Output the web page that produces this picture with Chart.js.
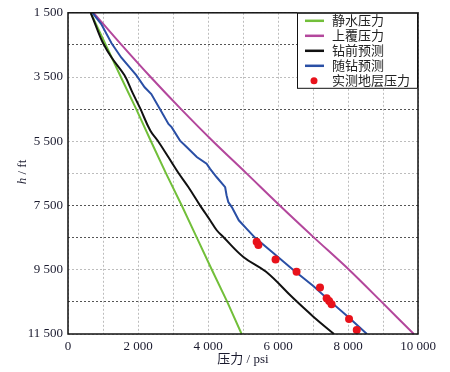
<!DOCTYPE html>
<html>
<head>
<meta charset="utf-8">
<script src="https://cdn.jsdelivr.net/npm/chart.js@4.4.1/dist/chart.umd.min.js"></script>
<style>
  html, body { margin: 0; padding: 0; background: #fff; }
  #wrap { width: 450px; height: 372px; }
</style>
</head>
<body>
<div id="wrap"><canvas id="grafico" width="450" height="372"></canvas></div>
<script>
// valores: profundidad (ft) y presion (psi)
var profHidro = [1500, 2500, 3500, 4500, 5500, 6500, 7500, 8500, 9500, 10500, 11500];
var hidrostatica = [650, 1080, 1510, 1950, 2370, 2800, 3250, 3680, 4110, 4550, 4960];

var profSobre = [1500, 2500, 3500, 4500, 5500, 6500, 7500, 8500, 9500, 10500, 11500];
var sobrecarga = [730, 1530, 2360, 3230, 4140, 5100, 6050, 7030, 8030, 8960, 9880];

var profPre = [1500, 2000, 2440, 2900, 3440, 4000, 4470, 5165, 5475, 5990, 6480, 6925, 7495, 7750, 7960, 8270, 8480, 9100, 9565, 10390, 10960, 11500];
var prePerfo = [650, 830, 1000, 1250, 1610, 1850, 2060, 2350, 2560, 2866, 3152, 3438, 3771, 3930, 4060, 4250, 4438, 5010, 5660, 6440, 7010, 7600];

var profCon = [1500, 1850, 2440, 2890, 3440, 3820, 4030, 4500, 4960, 5060, 5480, 5680, 5990, 6200, 6360, 6620, 6930, 7180, 7390, 7550, 7960, 8220, 8500, 9000, 9500, 10000, 10500, 11000, 11500];
var conPerfo = [700, 950, 1240, 1520, 1950, 2190, 2380, 2630, 2870, 2960, 3200, 3390, 3680, 3960, 4060, 4250, 4490, 4530, 4580, 4680, 4880, 5100, 5340, 5890, 6430, 7000, 7510, 8040, 8540];

// presion medida de formacion
var medidaPresion = [5390, 5440, 5930, 6530, 7200, 7390, 7460, 7530, 8030, 8250];
var medidaProf = [8630, 8730, 9180, 9565, 10050, 10390, 10475, 10570, 11030, 11375];

var etiquetas = ['静水压力', '上覆压力', '钻前预测', '随钻预测', '实测地层压力'];
var yTicks = [1500, 2500, 3500, 4500, 5500, 6500, 7500, 8500, 9500, 10500, 11500];
var yTicksOscuros = [2500, 4500, 7500, 8500, 10500];

var colores = ['#72bf3a', '#b3479c', '#111111', '#2a4fa5', '#e8121b'];

function armarPuntos(xs, ys){
	var res = [];
	for (var i = 0; i < xs.length; i++) {
		res.push({x: xs[i], y: ys[i]});
	}
	return res;
}

function formatoNum(v){
	if (v < 1000) return String(v);
	var miles = Math.floor(v / 1000);
	var resto = String(v % 1000);
	while (resto.length < 3) resto = '0' + resto;
	return miles + ' ' + resto;
}

var fuenteNum = '"Liberation Serif", "Times New Roman", serif';
var fuenteCjk = '"Liberation Serif", "Noto Sans CJK SC", serif';

// leyenda dentro del area, marco y titulos de ejes
var extras = {
	id: 'extras',
	afterDraw: function(chart){
		var ctx = chart.ctx;
		var a = chart.chartArea;
		ctx.save();

		// marco
		ctx.strokeStyle = '#111';
		ctx.lineWidth = 1.5;
		ctx.strokeRect(a.left, a.top, a.right - a.left, a.bottom - a.top);

		// leyenda
		var lx = a.right - 121, ly = a.top, lw = 121, lh = 76;
		ctx.fillStyle = '#fff';
		ctx.fillRect(lx, ly, lw, lh);
		ctx.strokeStyle = '#111';
		ctx.lineWidth = 1;
		ctx.strokeRect(lx + 0.5, ly + 0.5, lw - 1, lh - 1);
		ctx.font = '13px ' + fuenteCjk;
		ctx.textBaseline = 'middle';
		ctx.textAlign = 'left';
		for (var i = 0; i < etiquetas.length; i++) {
			var yy = ly + 8 + i * 15;
			if (i < 4) {
				ctx.strokeStyle = colores[i];
				ctx.lineWidth = 2.5;
				ctx.beginPath();
				ctx.moveTo(lx + 8, yy);
				ctx.lineTo(lx + 27, yy);
				ctx.stroke();
			} else {
				ctx.fillStyle = colores[i];
				ctx.beginPath();
				ctx.arc(lx + 17, yy, 3.5, 0, Math.PI * 2);
				ctx.fill();
			}
			ctx.fillStyle = '#222';
			ctx.fillText(etiquetas[i], lx + 35, yy + 1);
		}

		// titulo eje x
		ctx.fillStyle = '#1a1a2e';
		ctx.textAlign = 'center';
		ctx.font = '13px ' + fuenteCjk;
		ctx.fillText('压力 / psi', (a.left + a.right) / 2, 360);

		// titulo eje y
		ctx.translate(23, 172);
		ctx.rotate(-Math.PI / 2);
		ctx.textAlign = 'left';
		ctx.font = 'italic 13px ' + fuenteNum;
		var w1 = ctx.measureText('h').width;
		ctx.font = '13px ' + fuenteCjk;
		var w2 = ctx.measureText(' / ft').width;
		var x0 = -(w1 + w2) / 2;
		ctx.font = 'italic 13px ' + fuenteNum;
		ctx.fillText('h', x0, 0);
		ctx.font = '13px ' + fuenteCjk;
		ctx.fillText(' / ft', x0 + w1, 0);
		ctx.restore();
	}
};

var lineas = [
	[hidrostatica, profHidro, 0],
	[sobrecarga, profSobre, 0.3],
	[prePerfo, profPre, 0.4],
	[conPerfo, profCon, 0]
];
var datasets = [];
for (var k = 0; k < lineas.length; k++) {
	datasets.push({
		label: etiquetas[k],
		data: armarPuntos(lineas[k][0], lineas[k][1]),
		showLine: true,
		borderColor: colores[k],
		borderWidth: 2,
		pointRadius: 0,
		tension: lineas[k][2],
		order: 4 - k
	});
}
datasets.push({
	label: etiquetas[4],
	data: armarPuntos(medidaPresion, medidaProf),
	showLine: false,
	backgroundColor: colores[4],
	borderColor: colores[4],
	borderWidth: 0,
	pointRadius: 4,
	order: 0
});

var ctx = document.getElementById('grafico');
var grafico = new Chart(ctx, {
	type: 'scatter',
	data: { datasets: datasets },
	plugins: [extras],
	options: {
		responsive: false,
		animation: false,
		layout: { padding: { top: 12, right: 32, left: 0, bottom: 0 } },
		plugins: {
			legend: { display: false },
			tooltip: { enabled: false }
		},
		scales: {
			x: {
				type: 'linear',
				min: 0,
				max: 10000,
				afterFit: function(s){ s.height = 38; },
				ticks: {
					stepSize: 1000,
					padding: 5,
					color: '#1a1a2e',
					font: { family: fuenteNum, size: 13 },
					maxRotation: 0,
					autoSkip: false,
					callback: function(v){ return v % 2000 === 0 ? formatoNum(v) : ''; }
				},
				grid: { color: '#bdbdbd', lineWidth: 1, drawTicks: false },
				border: { display: false, dash: [2, 2] }
			},
			y: {
				type: 'linear',
				reverse: true,
				min: 1500,
				max: 11500,
				afterFit: function(s){ s.width = 68; },
				afterBuildTicks: function(s){
					s.ticks = yTicks.map(function(v){ return {value: v}; });
				},
				ticks: {
					padding: 5,
					color: '#1a1a2e',
					font: { family: fuenteNum, size: 13 },
					autoSkip: false,
					callback: function(v){ return (v - 1500) % 2000 === 0 ? formatoNum(v) : ''; }
				},
				grid: {
					drawTicks: false,
					lineWidth: 1,
					color: function(c){
						if (c.tick && yTicksOscuros.indexOf(c.tick.value) >= 0) return '#555';
						return '#bdbdbd';
					}
				},
				border: { display: false, dash: [2, 2] }
			}
		}
	}
});
</script>
</body>
</html>
